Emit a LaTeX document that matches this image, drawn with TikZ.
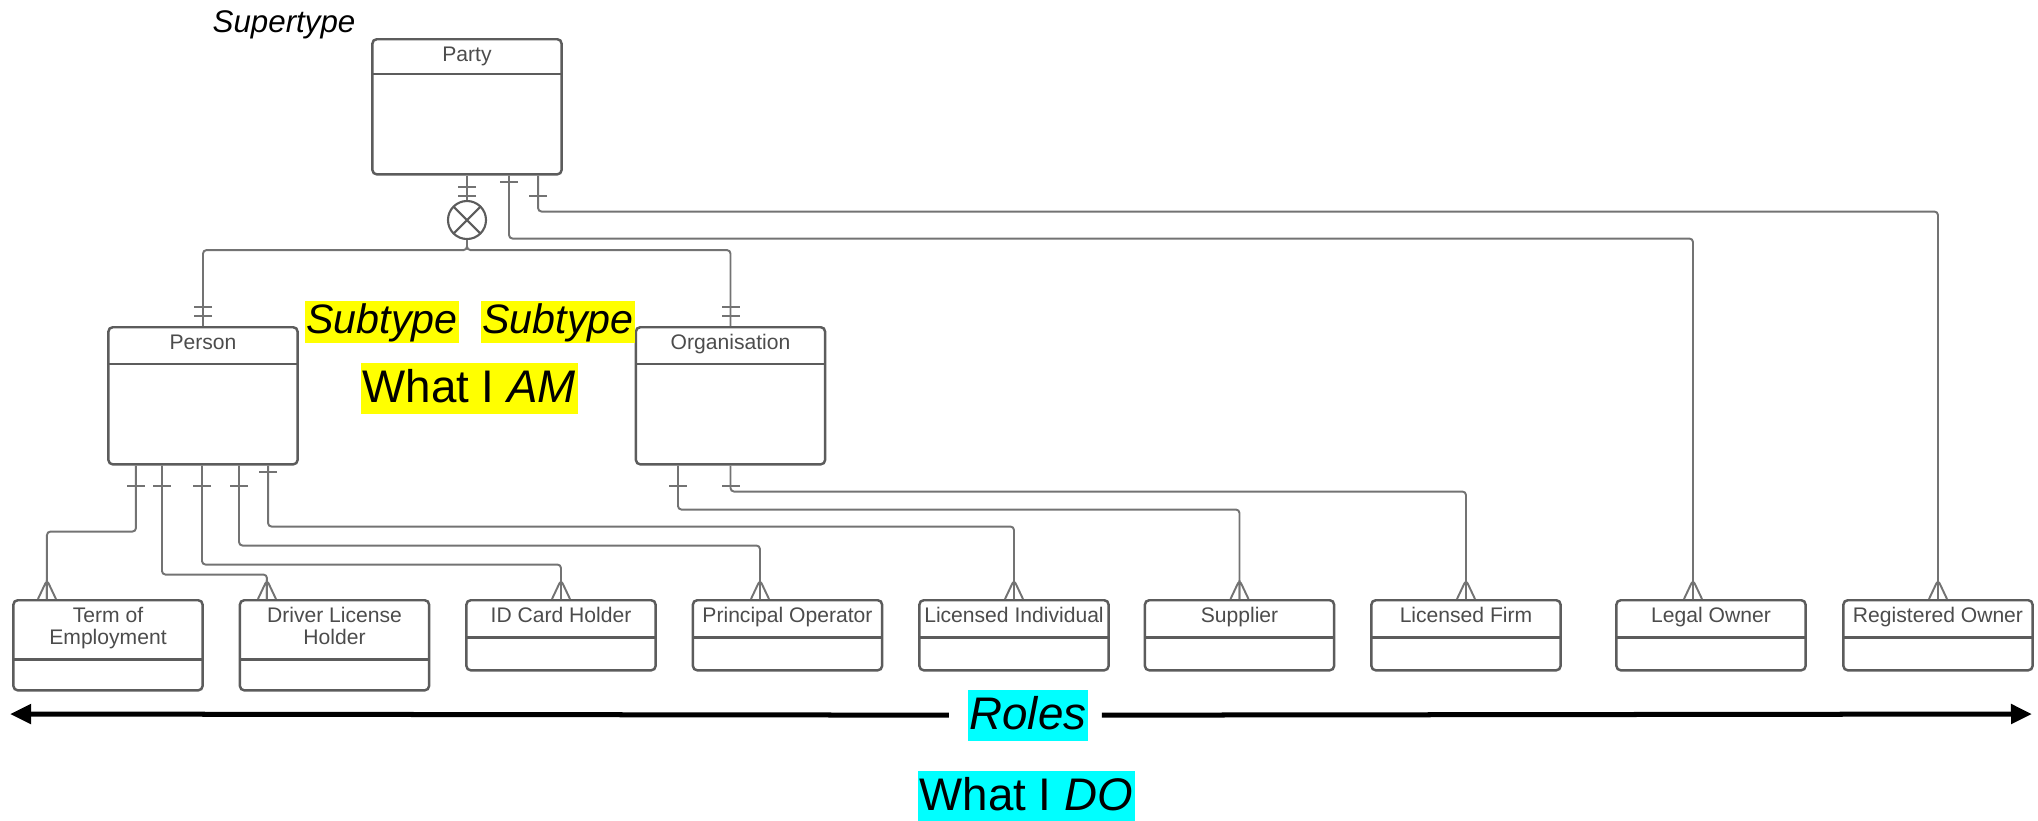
\documentclass[tikz,border=0pt]{standalone}
\usepackage{fontspec}
\setmainfont{Liberation Sans}
\usetikzlibrary{arrows.meta, decorations.markings}
\definecolor{egray}{gray}{0.36}
\definecolor{cgray}{gray}{0.45}
\definecolor{tgray}{gray}{0.30}
\definecolor{hlyellow}{RGB}{255,255,0}
\definecolor{hlcyan}{RGB}{0,255,255}

\begin{document}
\begin{tikzpicture}[
    x=0.01cm, y=-0.01cm,
    entity/.style 2 args={draw=egray, line width=0.7pt, rounded corners=1.2pt, fill=white, minimum width=1.89cm, inner xsep=1pt, inner ysep=0.06cm, text height=0.16cm, text depth=#1, align=center, text=tgray, font=\fontsize{6}{6.3}\selectfont,
        path picture={\draw[egray, line width=0.7pt] ([yshift=-#2]path picture bounding box.north west) -- ([yshift=-#2]path picture bounding box.north east);}},
    conn/.style={draw=cgray, line width=0.55pt, rounded corners=1pt},
    onebar/.style={postaction={decorate, decoration={markings, mark=at position #1 with {\draw[conn] (0,-9) -- (0,9);}}}},
    crowfoot/.style={postaction={decorate, decoration={markings, mark=at position -0.19cm with {\draw[conn] (19,-9) -- (0,0) -- (19,9) (0,0) -- (19,0);}}}},
    highlight/.style={fill=#1, inner xsep=0.5pt, inner ysep=0pt, font=\fontsize{13}{15}\selectfont, text height=0.40cm, text depth=0.11cm},
    bigarrow/.style={line width=0.05cm, -{Triangle[length=0.21cm, width=0.19cm]}},
]
\useasboundingbox (0,0) rectangle (2038,820);

% supertype and subtypes
\node[entity={1.07cm}{0.35cm}, anchor=north] (party) at (467,38) {Party};
\node[font=\fontsize{8.9}{10}\selectfont\itshape, anchor=base west, inner sep=0pt] (supertype) at (212,32) {Supertype};
\node[circle, draw=egray, line width=0.6pt, minimum size=0.38cm, inner sep=0pt,
    path picture={\draw[egray, line width=0.6pt] (path picture bounding box.north west) -- (path picture bounding box.south east) (path picture bounding box.north east) -- (path picture bounding box.south west);}] (xor) at (467,220) {};
\node[entity={1.09cm}{0.37cm}, anchor=north] (person) at (203,326) {Person};
\node[entity={1.09cm}{0.37cm}, anchor=north] (org) at (730.5,326) {Organisation};

\node[highlight=hlyellow, font=\fontsize{11.7}{14}\selectfont\itshape, text height=0.33cm, text depth=0.09cm, anchor=north west] (subA) at (304,300) {Subtype};
\node[highlight=hlyellow, font=\fontsize{11.7}{14}\selectfont\itshape, text height=0.33cm, text depth=0.09cm, anchor=north west] (subB) at (480,300) {Subtype};
\node[highlight=hlyellow, anchor=north west] (am) at (360,362) {What I \textit{AM}};

% roles
\foreach \nm/\cx/\tht/\dpt/\hdr/\txt in {
    term/108/0.38cm/0.40cm/0.59cm/{Term of\\Employment},
    driver/334.5/0.38cm/0.40cm/0.59cm/{Driver License\\Holder},
    idcard/561/0.16cm/0.42cm/0.37cm/{ID Card Holder},
    principal/787.5/0.16cm/0.42cm/0.37cm/{Principal Operator},
    licind/1014/0.16cm/0.42cm/0.37cm/{Licensed Individual},
    supplier/1239.5/0.16cm/0.42cm/0.37cm/{Supplier},
    licfirm/1466/0.16cm/0.42cm/0.37cm/{Licensed Firm},
    legal/1711/0.16cm/0.42cm/0.37cm/{Legal Owner},
    registered/1938/0.16cm/0.42cm/0.37cm/{Registered Owner}}
    \node[entity={\dpt}{\hdr}, text height=\tht, anchor=north] (\nm) at (\cx,599) {\txt};

\node[highlight=hlcyan, font=\fontsize{13}{15}\selectfont\itshape, anchor=north west] (roles) at (967,689) {Roles};
\node[highlight=hlcyan, anchor=north west] (whatdo) at (917,770) {What I \textit{DO}};
\coordinate (rolesleft) at (10,714);
\coordinate (rolesright) at (2032,714);
\draw[bigarrow, shorten <=0.18cm] (roles) -- (rolesleft);
\draw[bigarrow, shorten <=0.13cm] (roles) -- (rolesright);

% relationships
\draw[conn, onebar=0.11cm, onebar=0.2cm] (party.south) -- (xor.north);
\draw[conn, onebar=-0.1cm, onebar=-0.19cm] (xor.south) -- ++(0,10) -| (person.north);
\draw[conn, onebar=-0.1cm, onebar=-0.19cm] (xor.south) -- ++(0,10) -| (org.north);
\draw[conn, onebar=0.06cm, crowfoot] ([xshift=0.42cm]party.south) -- ++(0,63) -| ([xshift=-0.18cm]legal.north);
\draw[conn, onebar=0.2cm, crowfoot] ([xshift=0.71cm]party.south) -- ++(0,36) -| (registered.north);

\draw[conn, onebar=0.2cm, crowfoot] ([xshift=-0.67cm]person.south) -- ++(0,66) -| ([xshift=-0.61cm]term.north);
\draw[conn, onebar=0.2cm, crowfoot] ([xshift=-0.41cm]person.south) -- ++(0,109) -| ([xshift=-0.675cm]driver.north);
\draw[conn, onebar=0.2cm, crowfoot] ([xshift=-0.01cm]person.south) -- ++(0,99) -| (idcard.north);
\draw[conn, onebar=0.2cm, crowfoot] ([xshift=0.36cm]person.south) -- ++(0,80) -| ([xshift=-0.275cm]principal.north);
\draw[conn, onebar=0.06cm, crowfoot] ([xshift=0.65cm]person.south) -- ++(0,61) -| (licind.north);

\draw[conn, onebar=0.2cm, crowfoot] ([xshift=-0.525cm]org.south) -- ++(0,44) -| (supplier.north);
\draw[conn, onebar=0.2cm, crowfoot] (org.south) -- ++(0,26) -| (licfirm.north);

\end{tikzpicture}
\end{document}
